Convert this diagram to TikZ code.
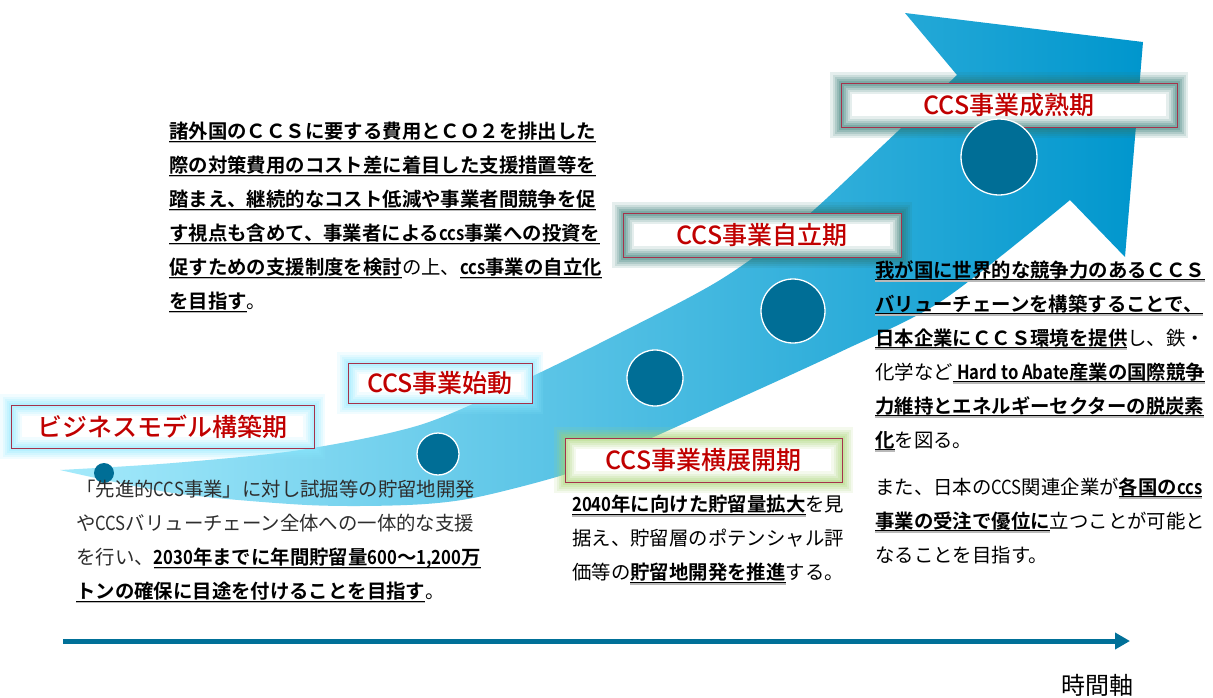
\documentclass[tikz,border=0pt]{standalone}
\usepackage{fontspec}
\usetikzlibrary{arrows.meta}
\newfontfamily\jp[BoldFont={Noto Sans CJK JP Bold}]{Noto Sans CJK JP}
\newfontfamily\jpmed{Noto Sans CJK JP Medium}

\definecolor{stagered}{RGB}{192,0,0}
\definecolor{boxred}{RGB}{165,50,75}
\definecolor{markblue}{RGB}{0,110,150}
\definecolor{axisblue}{RGB}{0,112,152}
\definecolor{glowcyan}{RGB}{140,232,255}
\definecolor{glowgreen}{RGB}{165,212,110}
\definecolor{glowteal}{RGB}{45,120,115}
\definecolor{bodygray}{RGB}{45,45,45}
\definecolor{arrowL}{RGB}{165,234,251}
\definecolor{arrowM}{RGB}{72,192,230}
\definecolor{arrowR}{RGB}{0,150,205}

% bold, underlined phrase with a soft shadow line
\newcommand{\ulbf}[1]{\setbox0=\hbox{\color{black}\bfseries #1}%
  \rlap{\color{gray!55}\rule[-4.8pt]{\wd0}{1.6pt}}%
  \rlap{\color{black}\rule[-3.4pt]{\wd0}{1.1pt}}\box0}
% narrower latin run
\newcommand{\narrow}[1]{\scalebox{0.86}[1]{#1}}

\tikzset{
  stagebox/.style={rectangle, fill=white, inner sep=0pt, text=stagered,
    font=\jpmed\fontsize{25pt}{30pt}\selectfont,
    postaction={draw=#1, draw opacity=.12, line width=22pt},
    postaction={draw=#1, draw opacity=.14, line width=17pt},
    postaction={draw=#1, draw opacity=.17, line width=13pt},
    postaction={draw=#1, draw opacity=.20, line width=9pt},
    postaction={draw=#1, draw opacity=.24, line width=5pt},
    postaction={draw=boxred, line width=1pt}},
  marker/.style={circle, fill=markblue, draw=white, line width=1.3pt,
    inner sep=0pt, minimum size=#1},
  note/.style={anchor=north west, align=left, inner sep=0pt, text=bodygray,
    font=\jp\fontsize{19.4pt}{34pt}\selectfont},
}

\begin{document}
\begin{tikzpicture}[x=1pt, y=-1pt]
  \path[fill=white, use as bounding box] (0,0) rectangle (1213,697);

  % the rising arrow
  \shade[left color=arrowL, middle color=arrowM, right color=arrowR]
    plot[smooth] coordinates {(60,470) (173,493) (307,505) (407,505) (473,498)
      (563,475) (620,452) (720,407) (840,352) (943,300) (1070,200)}
    -- (1125,257) -- (1143,42) -- (905,13) -- (957,75)
    -- plot[smooth] coordinates {(957,75) (880,148) (800,222) (720,280)
      (620,333) (520,382) (420,425) (300,450) (173,463) (60,470)}
    -- cycle;

  % stages
  \node[stagebox=glowcyan, minimum width=303pt, minimum height=43pt] (biz) at (162.5,426.5) {ビジネスモデル構築期};
  \node[stagebox=glowcyan, minimum width=184pt, minimum height=40pt] (launch) at (440,383) {CCS事業始動};
  \node[stagebox=glowgreen, minimum width=277pt, minimum height=44pt] (expand) at (703.5,460) {CCS事業横展開期};
  \node[stagebox=glowteal, minimum width=278pt, minimum height=44pt] (indep) at (762,235) {CCS事業自立期};
  \node[stagebox=glowteal, minimum width=336pt, minimum height=44pt] (mature) at (1009,105) {CCS事業成熟期};

  % milestones on the arrow
  \node[marker=20pt, draw=none] (m1) at (104,473) {};
  \node[marker=42pt] (m2) at (438,454) {};
  \node[marker=56pt] (m3) at (655,378) {};
  \node[marker=64pt] (m4) at (793,311) {};
  \node[marker=76pt] (m5) at (999,157) {};

  % notes
  \node[note] (noteA) at (169,122) {%
    \ulbf{諸外国のＣＣＳに要する費用とＣＯ２を排出した}\\
    \ulbf{際の対策費用のコスト差に着目した支援措置等を}\\
    \ulbf{踏まえ、継続的なコスト低減や事業者間競争を促}\\
    \ulbf{す視点も含めて、事業者による\narrow{ccs}事業への投資を}\\
    \ulbf{促すための支援制度を検討}の上、\ulbf{\narrow{ccs}事業の自立化}\\
    \ulbf{を目指す}。};
  \node[note] (noteB) at (76,480) {%
    「先進的\narrow{CCS}事業」に対し試掘等の貯留地開発\\
    や\narrow{CCS}バリューチェーン全体への一体的な支援\\
    を行い、\ulbf{\narrow{2030}年までに年間貯留量\narrow{600}～\narrow{1,200}万}\\
    \ulbf{トンの確保に目途を付けることを目指す}。};
  \node[note] (noteC) at (572,495) {%
    \ulbf{\narrow{2040}年に向けた貯留量拡大}を見\\
    据え、貯留層のポテンシャル評\\
    価等の\ulbf{貯留地開発を推進}する。};
  \node[note] (noteD) at (875,260) {%
    \ulbf{我が国に世界的な競争力のあるＣＣＳ}\\
    \ulbf{バリューチェーンを構築することで、}\\
    \ulbf{日本企業にＣＣＳ環境を提供}し、鉄・\\
    化学など\ulbf{\ \narrow{Hard to Abate}産業の国際競争}\\
    \ulbf{力維持とエネルギーセクターの脱炭素}\\
    \ulbf{化}を図る。\\[13pt]
    また、日本の\narrow{CCS}関連企業が\ulbf{各国の\narrow{ccs}}\\
    \ulbf{事業の受注で優位に}立つことが可能と\\
    なることを目指す。};

  % time axis
  \coordinate (t0) at (63,641);
  \coordinate (t1) at (1130,641);
  \draw[axisblue, line width=5pt, -{Triangle[length=15pt, width=16pt]}] (t0) -- (t1);
  \node[anchor=base, inner sep=0pt, font=\jp\fontsize{24pt}{28pt}\selectfont] (tlabel) at (1097,694) {時間軸};
\end{tikzpicture}
\end{document}
